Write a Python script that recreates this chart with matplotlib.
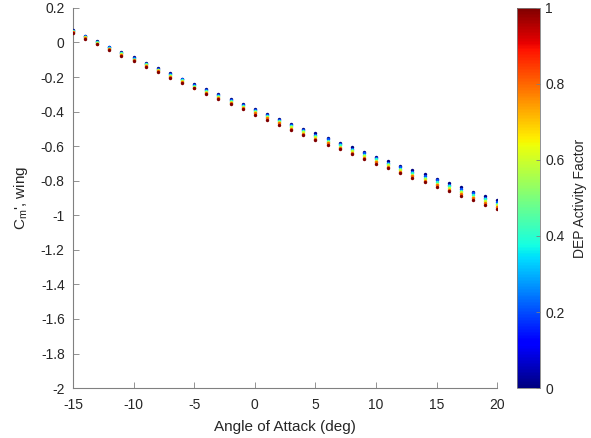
import matplotlib
matplotlib.use("Agg")
import matplotlib.pyplot as plt
import numpy as np

plt.rcParams['font.family'] = ['Liberation Sans', 'DejaVu Sans']

alpha = list(range(-15, 21))
dep_levels = [0.0, 0.2, 0.4, 0.6, 0.8, 1.0]

cm_dep00 = [0.072, 0.040, 0.008, -0.024, -0.055, -0.086, -0.117, -0.148, -0.178, -0.209,
            -0.239, -0.268, -0.298, -0.327, -0.356, -0.385, -0.414, -0.442, -0.470, -0.498,
            -0.526, -0.553, -0.580, -0.607, -0.634, -0.660, -0.686, -0.713, -0.738, -0.764,
            -0.789, -0.814, -0.839, -0.863, -0.888, -0.912]
cm_dep02 = [0.069, 0.036, 0.004, -0.028, -0.059, -0.090, -0.122, -0.153, -0.183, -0.214,
            -0.244, -0.274, -0.304, -0.333, -0.362, -0.391, -0.421, -0.449, -0.477, -0.505,
            -0.533, -0.561, -0.588, -0.615, -0.642, -0.668, -0.695, -0.722, -0.747, -0.773,
            -0.798, -0.824, -0.849, -0.873, -0.898, -0.922]
cm_dep04 = [0.065, 0.033, 0.000, -0.032, -0.063, -0.095, -0.126, -0.158, -0.188, -0.219,
            -0.250, -0.279, -0.310, -0.339, -0.368, -0.398, -0.427, -0.456, -0.484, -0.512,
            -0.541, -0.568, -0.596, -0.623, -0.650, -0.677, -0.703, -0.731, -0.756, -0.782,
            -0.808, -0.833, -0.859, -0.883, -0.908, -0.933]
cm_dep06 = [0.062, 0.029, -0.003, -0.036, -0.068, -0.099, -0.131, -0.162, -0.193, -0.225,
            -0.255, -0.285, -0.315, -0.345, -0.375, -0.404, -0.434, -0.462, -0.491, -0.520,
            -0.548, -0.576, -0.603, -0.631, -0.659, -0.685, -0.712, -0.739, -0.765, -0.792,
            -0.817, -0.843, -0.868, -0.893, -0.919, -0.943]
cm_dep08 = [0.058, 0.026, -0.007, -0.040, -0.072, -0.104, -0.135, -0.167, -0.198, -0.230,
            -0.261, -0.290, -0.321, -0.351, -0.381, -0.411, -0.440, -0.469, -0.498, -0.527,
            -0.556, -0.583, -0.611, -0.639, -0.667, -0.694, -0.720, -0.748, -0.774, -0.801,
            -0.827, -0.852, -0.878, -0.903, -0.929, -0.954]
cm_dep10 = [0.055, 0.022, -0.011, -0.044, -0.076, -0.108, -0.140, -0.172, -0.203, -0.235,
            -0.266, -0.296, -0.327, -0.357, -0.387, -0.417, -0.447, -0.476, -0.505, -0.534,
            -0.563, -0.591, -0.619, -0.647, -0.675, -0.702, -0.729, -0.757, -0.783, -0.810,
            -0.836, -0.862, -0.888, -0.913, -0.939, -0.964]
cm_series = [cm_dep00, cm_dep02, cm_dep04, cm_dep06, cm_dep08, cm_dep10]

grey = '#262626'
fig = plt.figure(figsize=(5.91, 4.38), dpi=100)
ax = fig.add_axes([0.1235, 0.114, 0.718, 0.868])
cmap = plt.get_cmap('jet')
norm = matplotlib.colors.Normalize(0, 1)

for dep, cm in zip(dep_levels, cm_series):
    ax.scatter(alpha, cm, s=6, color=cmap(norm(dep)), linewidths=0, zorder=3)

ax.set_xlim(-15, 20)
ax.set_ylim(-2, 0.2)
ax.set_xticks(np.arange(-15, 21, 5))
ax.set_yticks(np.round(np.arange(-2, 0.21, 0.2), 1))
ax.set_yticklabels(['-2', '-1.8', '-1.6', '-1.4', '-1.2', '-1', '-0.8', '-0.6',
                    '-0.4', '-0.2', '0', '0.2'])
ax.set_xticklabels(['-15', '-10', '-5', '0', '5', '10', '15', '20'])
for s in ['top', 'right']:
    ax.spines[s].set_visible(False)
for s in ['left', 'bottom']:
    ax.spines[s].set_color('#808080')
    ax.spines[s].set_linewidth(0.8)
ax.tick_params(direction='in', length=4, width=0.6, colors='#808080',
               labelcolor=grey, labelsize=10)
ax.tick_params(axis='y', pad=6)
ax.tick_params(axis='x', pad=7)
ax.set_xlabel('Angle of Attack (deg)', fontsize=11, color=grey, labelpad=6)
ax.set_ylabel("C$_\\mathregular{m}$', wing", fontsize=11, color=grey, labelpad=8)

cax = fig.add_axes([0.875, 0.114, 0.039, 0.868])
sm = matplotlib.cm.ScalarMappable(norm=norm, cmap=cmap)
cb = fig.colorbar(sm, cax=cax)
cb.set_ticks([0, 0.2, 0.4, 0.6, 0.8, 1])
cb.set_ticklabels(['0', '0.2', '0.4', '0.6', '0.8', '1'])
cb.outline.set_edgecolor('#808080')
cb.outline.set_linewidth(0.6)
cax.tick_params(direction='in', length=3, width=0.6, colors='#808080',
                labelcolor=grey, labelsize=10)
cb.set_label('DEP Activity Factor', fontsize=10, color=grey, labelpad=6)

fig.savefig('out.png', dpi=100)
